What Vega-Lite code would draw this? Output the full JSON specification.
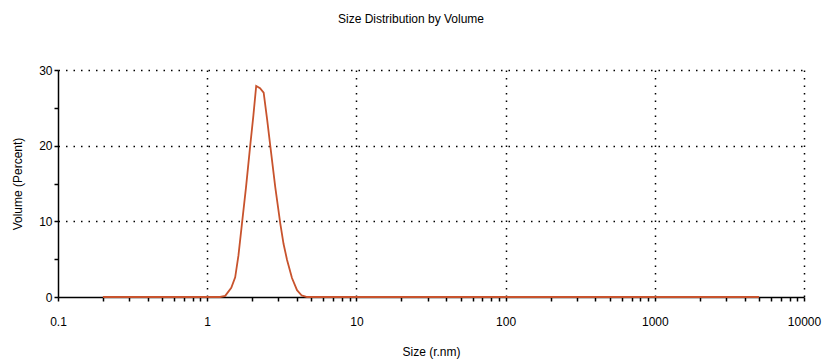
{
  "$schema": "https://vega.github.io/schema/vega-lite/v6.json",
  "autosize": "none",
  "width": 746,
  "height": 227,
  "padding": {"left": 58, "top": 70, "right": 20, "bottom": 64},
  "background": "white",
  "title": {
    "text": "Size Distribution by Volume",
    "font": "Liberation Sans",
    "fontSize": 12,
    "fontWeight": "normal",
    "color": "black",
    "offset": 38,
    "dx": -20
  },
  "config": {
    "view": {"stroke": null},
    "axis": {
      "domainColor": "black",
      "domainWidth": 1.5,
      "tickColor": "black",
      "tickWidth": 1.5,
      "labelFont": "Liberation Sans",
      "labelFontSize": 12,
      "labelColor": "black",
      "titleFont": "Liberation Sans",
      "titleFontSize": 12,
      "titleFontWeight": "normal",
      "titleColor": "black",
      "gridColor": "black",
      "gridWidth": 1.5,
      "gridDash": [1.5, 6]
    }
  },
  "data": {
    "values": [
      {"size": 0.2, "volume": 0},
      {"size": 0.3, "volume": 0},
      {"size": 0.5, "volume": 0},
      {"size": 0.8, "volume": 0},
      {"size": 1.0, "volume": 0},
      {"size": 1.22, "volume": 0},
      {"size": 1.32, "volume": 0.15},
      {"size": 1.45, "volume": 1.2},
      {"size": 1.54, "volume": 2.6},
      {"size": 1.62, "volume": 5.5},
      {"size": 1.71, "volume": 9.7},
      {"size": 1.82, "volume": 14.5},
      {"size": 1.94, "volume": 19.9},
      {"size": 2.04, "volume": 24.0},
      {"size": 2.13, "volume": 27.9},
      {"size": 2.26, "volume": 27.6},
      {"size": 2.39, "volume": 27.0},
      {"size": 2.52, "volume": 23.5},
      {"size": 2.65, "volume": 19.9},
      {"size": 2.86, "volume": 14.5},
      {"size": 3.09, "volume": 9.7},
      {"size": 3.25, "volume": 7.0},
      {"size": 3.43, "volume": 4.9},
      {"size": 3.7, "volume": 2.5},
      {"size": 4.0, "volume": 0.9},
      {"size": 4.3, "volume": 0.2},
      {"size": 4.67, "volume": 0},
      {"size": 6, "volume": 0},
      {"size": 10, "volume": 0},
      {"size": 20, "volume": 0},
      {"size": 50, "volume": 0},
      {"size": 100, "volume": 0},
      {"size": 500, "volume": 0},
      {"size": 1000, "volume": 0},
      {"size": 5000, "volume": 0}
    ]
  },
  "mark": {"type": "line", "color": "#c8532d", "strokeWidth": 1.8, "interpolate": "linear"},
  "encoding": {
    "x": {
      "field": "size",
      "type": "quantitative",
      "scale": {"type": "log", "domain": [0.1, 10000], "nice": false},
      "axis": {
        "title": "Size (r.nm)",
        "titleX": 373,
        "titlePadding": 19,
        "values": [0.1,0.2,0.3,0.4,0.5,0.6,0.7,0.8,0.9,1,2,3,4,5,6,7,8,9,10,20,30,40,50,60,70,80,90,100,200,300,400,500,600,700,800,900,1000,2000,3000,4000,5000,6000,7000,8000,9000,10000],
        "labelExpr": "indexof([0.1,1,10,100,1000,10000], datum.value) >= 0 ? (datum.value == 0.1 ? '0.1' : format(datum.value, 'd')) : ''",
        "labelPadding": 15,
        "labelFlush": false,
        "labelOverlap": false,
        "tickSize": 4,
        "grid": true,
        "gridOpacity": {"condition": {"test": "indexof([1,10,100,1000,10000], datum.value) >= 0", "value": 1}, "value": 0}
      }
    },
    "y": {
      "field": "volume",
      "type": "quantitative",
      "scale": {"domain": [0, 30], "nice": false},
      "axis": {
        "title": "Volume (Percent)",
        "titlePadding": 14,
        "values": [0, 5, 10, 15, 20, 25, 30],
        "labelExpr": "datum.value % 10 == 0 ? datum.label : ''",
        "labelPadding": 2,
        "tickSize": 4,
        "grid": true,
        "gridOpacity": {"condition": {"test": "datum.value % 10 == 0 && datum.value > 0", "value": 1}, "value": 0}
      }
    }
  }
}
